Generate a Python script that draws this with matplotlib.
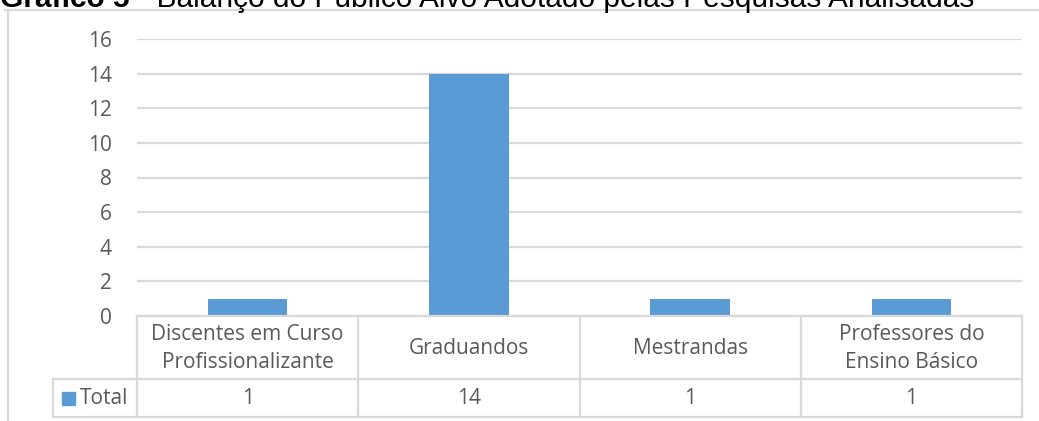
import matplotlib.pyplot as plt
from matplotlib.lines import Line2D
from matplotlib.patches import Rectangle

categories = ["Discentes em Curso\nProfissionalizante", "Graduandos",
              "Mestrandas", "Professores do\nEnsino Básico"]
totals = [1, 14, 1, 1]
series_name = "Total"
yticks = [0, 2, 4, 6, 8, 10, 12, 14, 16]

W, H = 1039, 421
bar_color = "#5B9BD5"
grid_color = "#D9D9D9"
text_color = "#595959"
plt.rcParams['font.family'] = ['Open Sans', 'DejaVu Sans']
fs = 15

fig = plt.figure(figsize=(W / 100, H / 100), dpi=100)


def fx(x):
    return x / W


def fy(y):
    return 1 - y / H


# plot area in pixels
left, right, top, bottom = 137, 1022, 39, 316
ax = fig.add_axes([fx(left), fy(bottom), fx(right - left), (bottom - top) / H])
ax.bar(range(len(totals)), totals, width=0.36, color=bar_color, zorder=3)
ax.set_xlim(-0.5, len(totals) - 0.5)
ax.set_ylim(0, 16)
ax.set_yticks(yticks)
ax.set_xticks([])
ax.yaxis.grid(True, color=grid_color, lw=1.6)
ax.set_axisbelow(True)
for s in ax.spines.values():
    s.set_visible(False)
ax.tick_params(axis='y', length=0, pad=18, labelsize=fs, labelcolor=text_color)

# data table under the chart
ncat = len(categories)
colw = (right - left) / ncat
row1, row2, row3 = 316, 379, 417
key_left = 53


def hline(x0, x1, y):
    fig.add_artist(Line2D([fx(x0), fx(x1)], [fy(y), fy(y)], color=grid_color, lw=1.6))


def vline(x, y0, y1):
    fig.add_artist(Line2D([fx(x), fx(x)], [fy(y0), fy(y1)], color=grid_color, lw=1.6))


hline(left, right, row1)
hline(key_left, right, row2)
hline(key_left, right, row3)
vline(key_left, row2, row3)
for i in range(ncat + 1):
    vline(left + i * colw, row1, row3)

for i, (cat, val) in enumerate(zip(categories, totals)):
    cx = left + (i + 0.5) * colw
    fig.text(fx(cx), fy((row1 + row2) / 2 + 1), cat, ha='center', va='center',
             fontsize=fs, color=text_color, linespacing=1.4)
    fig.text(fx(cx), fy((row2 + row3) / 2), str(val), ha='center', va='center',
             fontsize=fs, color=text_color)

fig.add_artist(Rectangle((fx(62), fy(405)), fx(13), 13 / H, color=bar_color,
                         transform=fig.transFigure))
fig.text(fx(80), fy((row2 + row3) / 2), series_name, ha='left', va='center',
         fontsize=fs, color=text_color)

# chart border
hline(5, W, 10)
vline(8, 10, H)

# title, cut at the top of the image
t1 = fig.text(0, fy(7), "Gráfico 5", ha='left', va='baseline', fontsize=21.5,
              fontweight='bold', family='Liberation Sans')
r = fig.canvas.get_renderer()
x1 = t1.get_window_extent(r).x1
fig.text(x1 / W, fy(7), " - Balanço do Público Alvo Adotado pelas Pesquisas Analisadas",
         ha='left', va='baseline', fontsize=21.5, family='Liberation Sans')

fig.savefig("out.png", dpi=100)
